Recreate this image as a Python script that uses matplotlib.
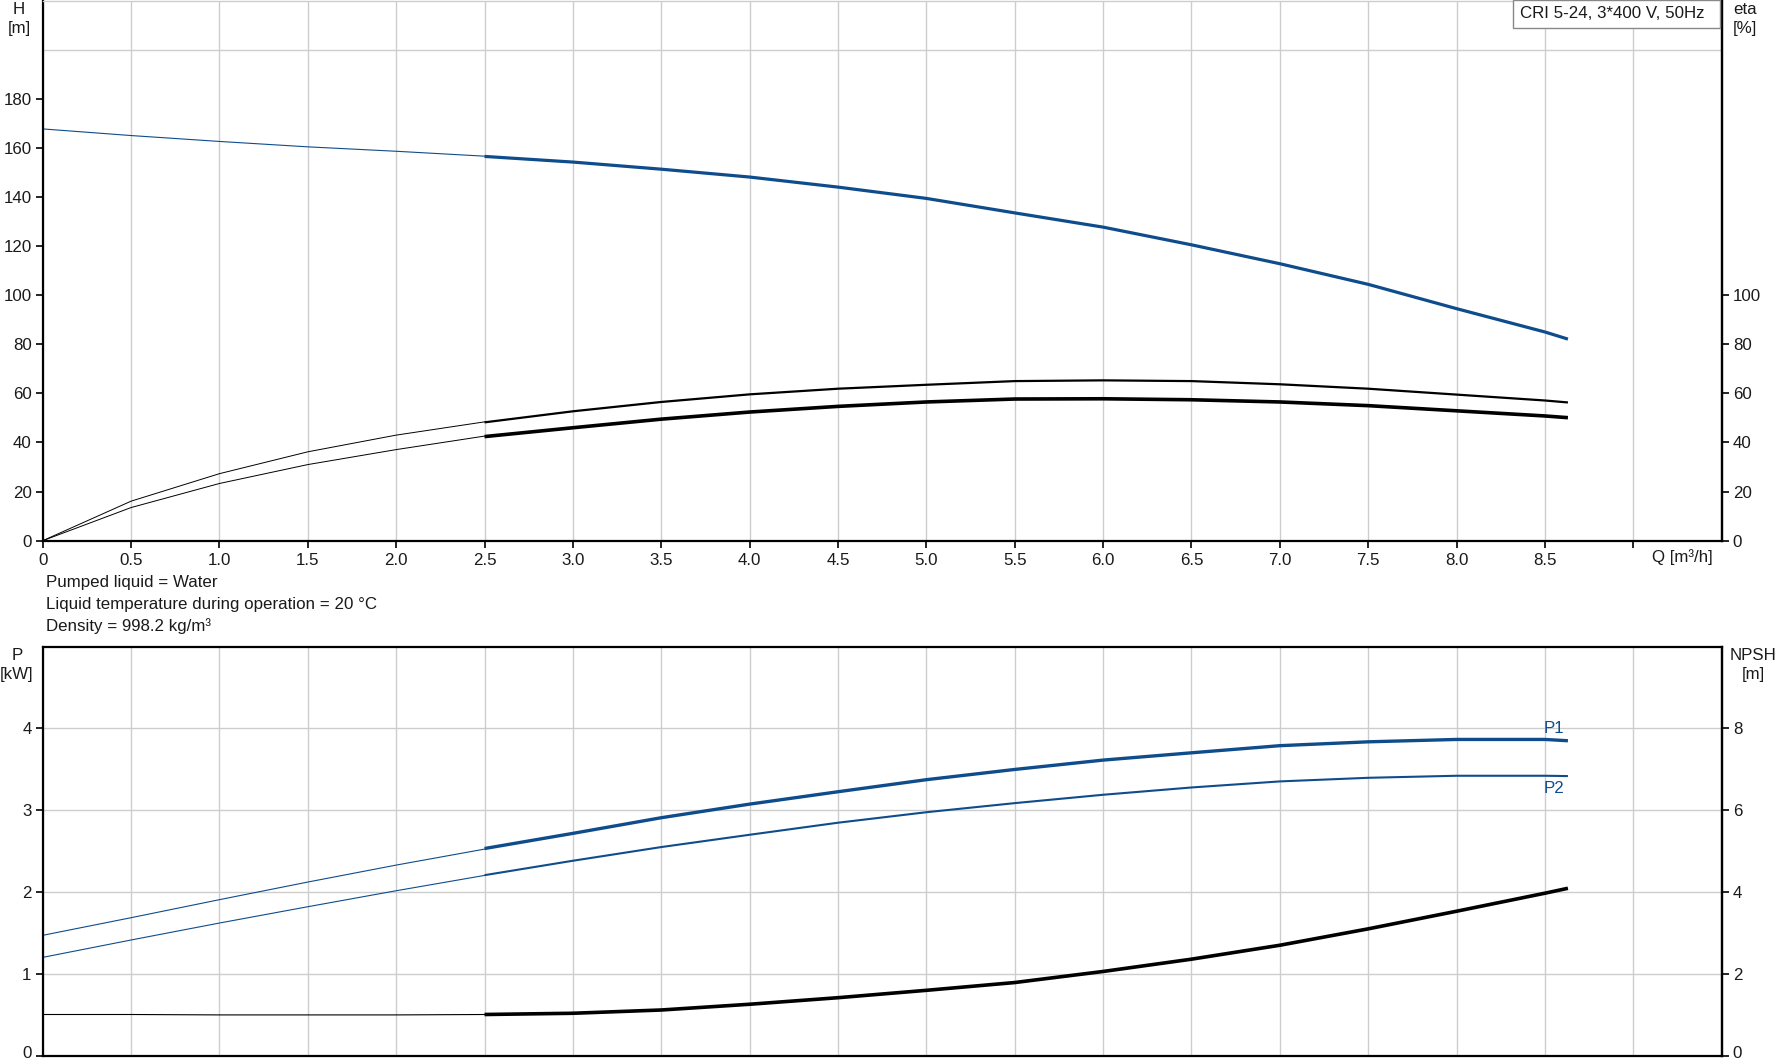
import matplotlib
matplotlib.use("Agg")
import matplotlib.pyplot as plt
from matplotlib.patches import Rectangle
from matplotlib.ticker import FixedLocator
from matplotlib.transforms import ScaledTranslation

plt.rcParams['font.family'] = ['Liberation Sans', 'DejaVu Sans']

# ---------------- data ----------------
q_thin = [0, 0.5, 1.0, 1.5, 2.0, 2.5]
q_main = [2.5, 3.0, 3.5, 4.0, 4.5, 5.0, 5.5, 6.0, 6.5, 7.0, 7.5, 8.0, 8.5, 8.63]

h_thin = [167.7, 165.0, 162.6, 160.4, 158.6, 156.6]
h_main = [156.5, 154.2, 151.3, 148.1, 144.0, 139.4, 133.5, 127.7, 120.5, 112.8,
          104.4, 94.5, 85.0, 82.1]

eta1_thin = [0, 16.1, 27.3, 36.2, 43.0, 48.4]
eta1_main = [48.2, 52.7, 56.5, 59.6, 61.9, 63.5, 65.0, 65.3, 65.0, 63.7, 61.9,
             59.5, 57.1, 56.3]
eta2_thin = [0, 13.5, 23.3, 31.0, 37.1, 42.6]
eta2_main = [42.4, 46.0, 49.5, 52.4, 54.7, 56.5, 57.7, 57.8, 57.4, 56.5, 55.0,
             52.9, 50.8, 50.1]

p1_thin = [1.476, 1.691, 1.911, 2.126, 2.333, 2.528]
p1_main = [2.535, 2.720, 2.911, 3.077, 3.228, 3.375, 3.500, 3.614, 3.703, 3.790,
           3.837, 3.866, 3.866, 3.850]
p2_thin = [1.207, 1.419, 1.626, 1.825, 2.020, 2.207]
p2_main = [2.210, 2.386, 2.553, 2.703, 2.850, 2.978, 3.089, 3.191, 3.280, 3.354,
           3.398, 3.423, 3.423, 3.419]

npsh_thin = [1.02, 1.02, 1.01, 1.01, 1.01, 1.02]
npsh_main = [1.02, 1.05, 1.13, 1.27, 1.43, 1.61, 1.80, 2.07, 2.37, 2.71, 3.11,
             3.54, 3.98, 4.10]

x_ticks = [0, 0.5, 1.0, 1.5, 2.0, 2.5, 3.0, 3.5, 4.0, 4.5, 5.0, 5.5, 6.0, 6.5,
           7.0, 7.5, 8.0, 8.5, 9.0]
x_labels = ["0", "0.5", "1.0", "1.5", "2.0", "2.5", "3.0", "3.5", "4.0", "4.5",
            "5.0", "5.5", "6.0", "6.5", "7.0", "7.5", "8.0", "8.5", ""]
h_ticks = [0, 20, 40, 60, 80, 100, 120, 140, 160, 180]
h_grid = [20, 40, 60, 80, 100, 120, 140, 160, 180, 200]
eta_ticks = [0, 20, 40, 60, 80, 100]
p_ticks = [0, 1, 2, 3, 4]
npsh_ticks = [0, 2, 4, 6, 8]

title_text = "CRI 5-24, 3*400 V, 50Hz"
info_lines = ["Pumped liquid = Water",
              "Liquid temperature during operation = 20 \u00b0C",
              "Density = 998.2 kg/m\u00b3"]

# ---------------- style ----------------
W, H = 1776, 1061
BLUE = "#0f4c8c"
GRID = "#cdcdcd"
TXT = "#1a1a1a"
FS = 12.2

fig = plt.figure(figsize=(W / 100, H / 100), dpi=100)
fig.patch.set_facecolor("white")

def fx(px):
    return px / W

def fy(py):
    return 1 - py / H

L, R = 42.7, 1721.7
ax1 = fig.add_axes([fx(L), fy(540.7), fx(R - L), (540.7 - 0.5) / H])
ax2 = fig.add_axes([fx(L), fy(1056.3), fx(R - L), (1056.3 - 646.5) / H])

for ax in (ax1, ax2):
    ax.set_xlim(0, 9.5)
    ax.xaxis.set_major_locator(FixedLocator(x_ticks))
    ax.grid(True, axis="x", color=GRID, lw=1.0)
    ax.set_axisbelow(True)
    for s in ("left", "right", "bottom", "top"):
        ax.spines[s].set_color("black")
        ax.spines[s].set_linewidth(1.6)
    ax.tick_params(axis="both", colors="black", labelcolor=TXT, labelsize=FS,
                   length=5, width=1.2, direction="out")

# ---- top plot ----
ax1.set_ylim(0, 220)
ax1.set_yticks(h_ticks)
ax1.yaxis.set_minor_locator(FixedLocator(h_grid))
ax1.grid(True, axis="y", which="minor", color=GRID, lw=1.0)
ax1.tick_params(axis="y", which="minor", length=0)
ax1.tick_params(axis="y", pad=3)
ax1.set_xticklabels(x_labels)
ax1.tick_params(axis="x", pad=4)
ax1.spines["top"].set_color(GRID)
ax1.spines["top"].set_linewidth(1.0)

ax1.plot(q_thin, h_thin, color=BLUE, lw=0.8)
ax1.plot(q_main, h_main, color=BLUE, lw=2.3, solid_capstyle="butt")

ax1r = ax1.twinx()
ax1r.set_ylim(0, 220)
ax1r.set_yticks(eta_ticks)
ax1r.tick_params(axis="y", colors="black", labelcolor=TXT, labelsize=FS,
                 length=5, width=1.2, pad=3)
for s in ("left", "right", "bottom", "top"):
    ax1r.spines[s].set_visible(False)
ax1r.spines["right"].set_visible(True)
ax1r.spines["right"].set_linewidth(1.6)
ax1r.plot(q_thin, eta1_thin, color="black", lw=0.7)
ax1r.plot(q_main, eta1_main, color="black", lw=1.6, solid_capstyle="butt")
ax1r.plot(q_thin, eta2_thin, color="black", lw=0.7)
ax1r.plot(q_main, eta2_main, color="black", lw=2.6, solid_capstyle="butt")

# ---- bottom plot ----
ax2.set_ylim(0, 5)
ax2.set_yticks(p_ticks)
ax2.grid(True, axis="y", color=GRID, lw=1.0)
ax2.tick_params(axis="x", length=0, labelbottom=False)
ax2.tick_params(axis="y", pad=3)
ax2.plot(q_thin, p1_thin, color=BLUE, lw=0.8)
ax2.plot(q_main, p1_main, color=BLUE, lw=2.4, solid_capstyle="butt")
ax2.plot(q_thin, p2_thin, color=BLUE, lw=0.8)
ax2.plot(q_main, p2_main, color=BLUE, lw=1.5, solid_capstyle="butt")

ax2r = ax2.twinx()
ax2r.set_ylim(0, 10)
ax2r.set_yticks(npsh_ticks)
ax2r.tick_params(axis="y", colors="black", labelcolor=TXT, labelsize=FS,
                 length=5, width=1.2, pad=3)
for s in ("left", "bottom", "top"):
    ax2r.spines[s].set_visible(False)
ax2r.spines["right"].set_linewidth(1.6)
ax2r.plot(q_thin, npsh_thin, color="black", lw=0.8)
ax2r.plot(q_main, npsh_main, color="black", lw=2.6, solid_capstyle="butt")

# keep the bottom "0" labels inside the picture
up = ScaledTranslation(0, 4 / 100, fig.dpi_scale_trans)
for a in (ax2, ax2r):
    lab = a.get_yticklabels()[0]
    lab.set_transform(lab.get_transform() + up)

ax2.text(q_main[-1] - 0.08, p1_main[-1] + 0.06, "P1", color=BLUE, fontsize=FS,
         ha="center", va="bottom")
ax2.text(q_main[-1] - 0.08, p2_main[-1] - 0.06, "P2", color=BLUE,
         fontsize=FS, ha="center", va="top")

# ---- axis titles ----
fig.text(fx(19), fy(9), "H", ha="center", va="center", fontsize=FS, color=TXT)
fig.text(fx(19), fy(29), "[m]", ha="center", va="center", fontsize=FS, color=TXT)
fig.text(fx(1745), fy(9), "eta", ha="center", va="center", fontsize=FS, color=TXT)
fig.text(fx(1745), fy(29), "[%]", ha="center", va="center", fontsize=FS, color=TXT)
fig.text(fx(17), fy(655), "P", ha="center", va="center", fontsize=FS, color=TXT)
fig.text(fx(17), fy(675), "[kW]", ha="center", va="center", fontsize=FS, color=TXT)
fig.text(fx(1753), fy(655), "NPSH", ha="center", va="center", fontsize=FS, color=TXT)
fig.text(fx(1753), fy(675), "[m]", ha="center", va="center", fontsize=FS, color=TXT)
fig.text(fx(1682), fy(557), "Q [m\u00b3/h]", ha="center", va="center",
         fontsize=FS, color=TXT)

for i, line in enumerate(info_lines):
    fig.text(fx(46), fy(583 + i * 21.5), line, ha="left", va="center",
             fontsize=FS, color=TXT)

# ---- title box ----
fig.patches.append(Rectangle((fx(1513), fy(28)), fx(1720 - 1513), 28 / H,
                             transform=fig.transFigure, facecolor="white",
                             edgecolor="#888888", lw=1.0, zorder=10))
fig.text(fx(1520), fy(14), title_text, ha="left", va="center", fontsize=FS,
         color=TXT, zorder=11)

fig.savefig("out.png", dpi=100, facecolor="white")
